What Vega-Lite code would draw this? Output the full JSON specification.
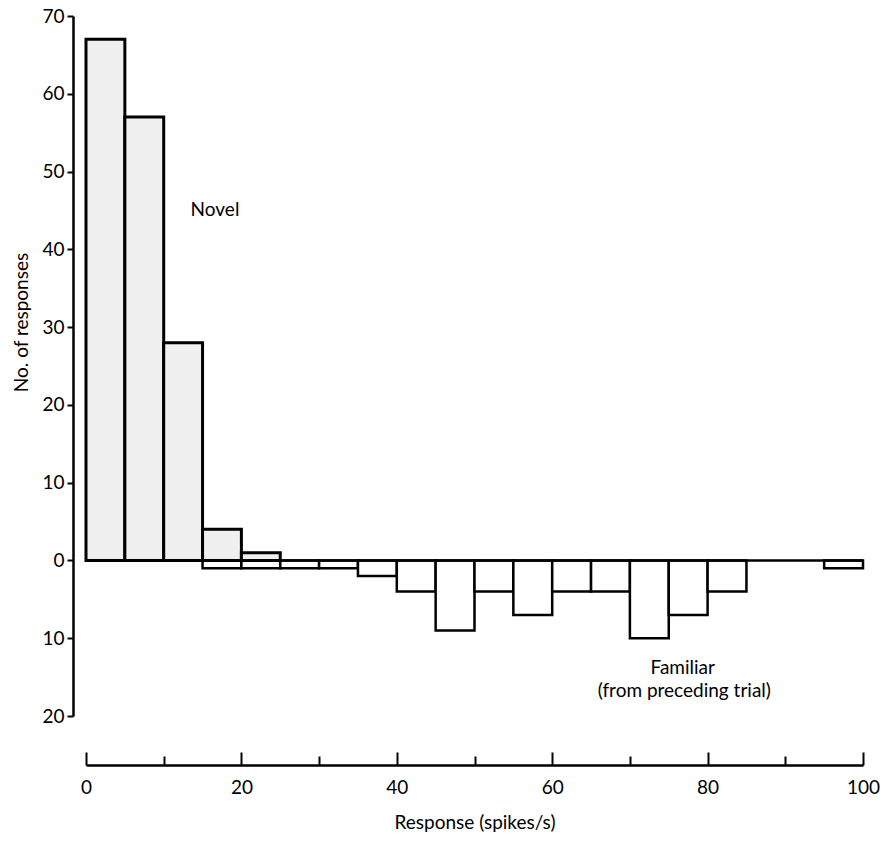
{
  "$schema": "https://vega.github.io/schema/vega-lite/v6.json",
  "width": 777,
  "height": 700,
  "autosize": {"type": "none"},
  "padding": {"left": 86, "top": 16, "right": 19, "bottom": 142},
  "background": "white",
  "config": {
    "font": "Lato",
    "view": {"stroke": null},
    "axis": {
      "domainColor": "black",
      "domainWidth": 2.5,
      "tickColor": "black",
      "tickWidth": 2,
      "labelColor": "black",
      "titleColor": "black",
      "labelFont": "Lato",
      "titleFont": "Lato",
      "labelFontSize": 19,
      "titleFontSize": 19,
      "titleFontWeight": "normal",
      "labelFlush": false,
      "grid": false
    }
  },
  "datasets": {
    "bins": [
      {"group": "Novel", "lo": 0, "hi": 5, "count": 67},
      {"group": "Novel", "lo": 5, "hi": 10, "count": 57},
      {"group": "Novel", "lo": 10, "hi": 15, "count": 28},
      {"group": "Novel", "lo": 15, "hi": 20, "count": 4},
      {"group": "Novel", "lo": 20, "hi": 25, "count": 1},
      {"group": "Familiar", "lo": 15, "hi": 20, "count": -1},
      {"group": "Familiar", "lo": 20, "hi": 25, "count": -1},
      {"group": "Familiar", "lo": 25, "hi": 30, "count": -1},
      {"group": "Familiar", "lo": 30, "hi": 35, "count": -1},
      {"group": "Familiar", "lo": 35, "hi": 40, "count": -2},
      {"group": "Familiar", "lo": 40, "hi": 45, "count": -4},
      {"group": "Familiar", "lo": 45, "hi": 50, "count": -9},
      {"group": "Familiar", "lo": 50, "hi": 55, "count": -4},
      {"group": "Familiar", "lo": 55, "hi": 60, "count": -7},
      {"group": "Familiar", "lo": 60, "hi": 65, "count": -4},
      {"group": "Familiar", "lo": 65, "hi": 70, "count": -4},
      {"group": "Familiar", "lo": 70, "hi": 75, "count": -10},
      {"group": "Familiar", "lo": 75, "hi": 80, "count": -7},
      {"group": "Familiar", "lo": 80, "hi": 85, "count": -4},
      {"group": "Familiar", "lo": 95, "hi": 100, "count": -1}
    ],
    "notes": [
      {"text": "Novel", "x": 16.6, "y": 45},
      {"text": "Familiar", "x": 76.8, "y": -13.8},
      {"text": "(from preceding trial)", "x": 77, "y": -16.8}
    ],
    "baseline": [{"from": 0, "to": 100, "level": 0}]
  },
  "layer": [
    {
      "data": {"name": "bins"},
      "transform": [{"filter": "datum.group === 'Familiar'"}],
      "mark": {"type": "rect", "fill": "white", "stroke": "black", "strokeWidth": 2.5},
      "encoding": {
        "x": {
          "field": "lo",
          "type": "quantitative",
          "scale": {"domain": [0, 100], "nice": false},
          "axis": {
            "orient": "bottom",
            "offset": 49,
            "values": [0, 10, 20, 30, 40, 50, 60, 70, 80, 90, 100],
            "labelExpr": "datum.value % 20 === 0 ? datum.label : ''",
            "tickSize": {"condition": {"test": "datum.value % 20 === 0", "value": -13}, "value": -9},
            "labelPadding": 26,
            "title": "Response (spikes/s)",
            "titlePadding": 16
          }
        },
        "x2": {"field": "hi"},
        "y": {
          "field": "count",
          "type": "quantitative",
          "scale": {"domain": [-20, 70], "nice": false, "zero": false},
          "axis": {
            "offset": 13,
            "values": [-20, -10, 0, 10, 20, 30, 40, 50, 60, 70],
            "labelExpr": "abs(datum.value)",
            "tickSize": 6,
            "labelPadding": 3,
            "title": "No. of responses",
            "titleY": 306,
            "titlePadding": 10
          }
        },
        "y2": {"datum": 0}
      }
    },
    {
      "data": {"name": "bins"},
      "transform": [{"filter": "datum.group === 'Novel'"}],
      "mark": {"type": "rect", "fill": "#f0f0f0", "stroke": "black", "strokeWidth": 3},
      "encoding": {
        "x": {"field": "lo", "type": "quantitative"},
        "x2": {"field": "hi"},
        "y": {"field": "count", "type": "quantitative"},
        "y2": {"datum": 0}
      }
    },
    {
      "data": {"name": "baseline"},
      "mark": {"type": "rule", "color": "black", "strokeWidth": 2.5},
      "encoding": {
        "x": {"field": "from", "type": "quantitative"},
        "x2": {"field": "to"},
        "y": {"field": "level", "type": "quantitative"}
      }
    },
    {
      "data": {"name": "notes"},
      "mark": {"type": "text", "font": "Lato", "fontSize": 19, "color": "black", "align": "center", "baseline": "middle"},
      "encoding": {
        "x": {"field": "x", "type": "quantitative"},
        "y": {"field": "y", "type": "quantitative"},
        "text": {"field": "text"}
      }
    }
  ]
}
